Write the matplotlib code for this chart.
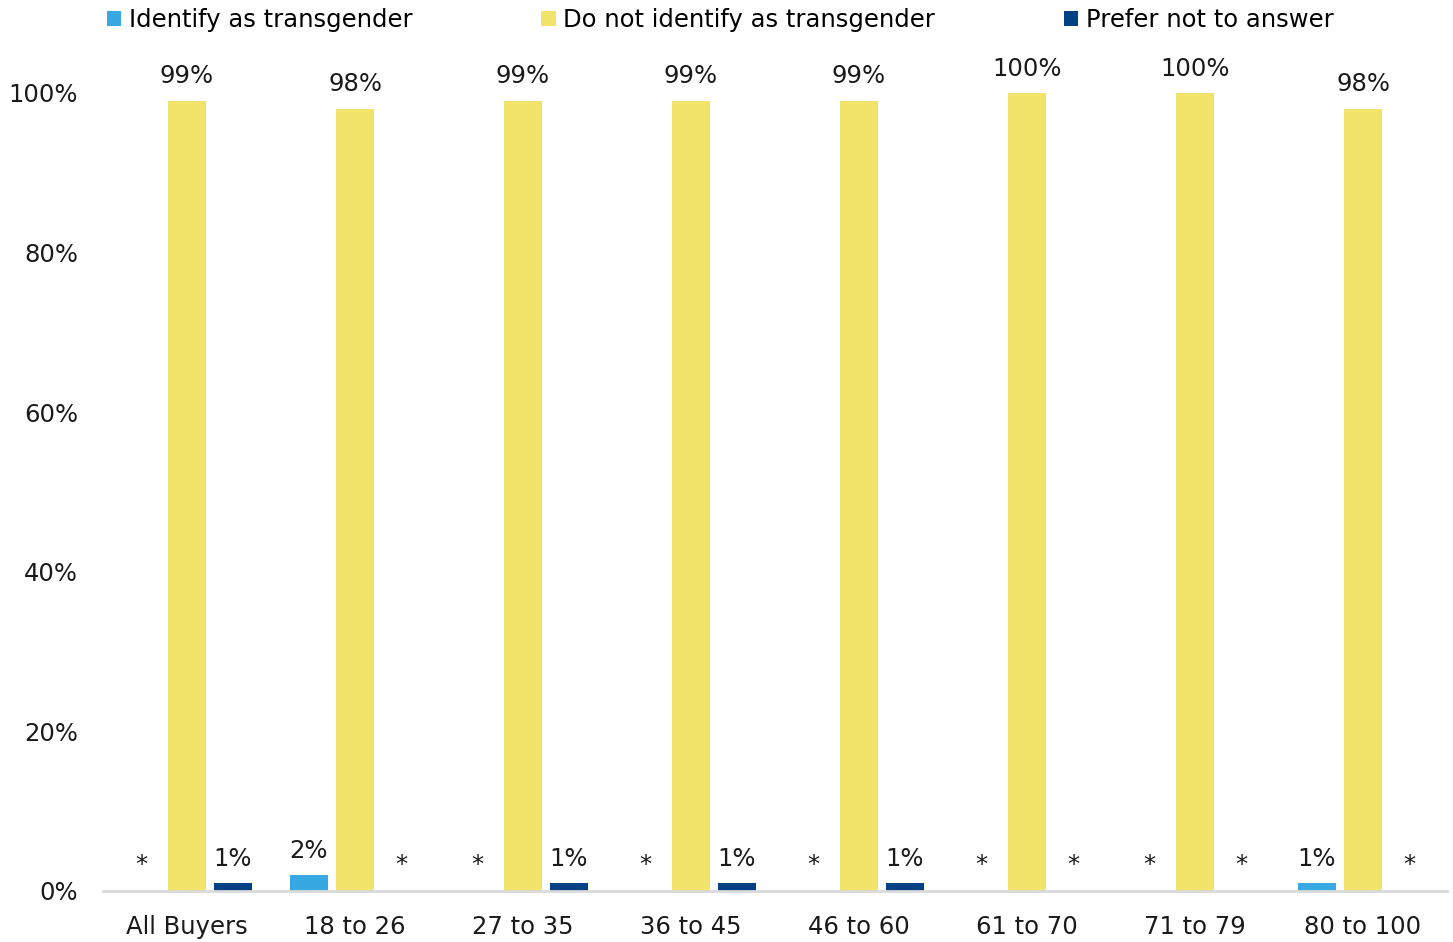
import matplotlib
matplotlib.use("Agg")
import matplotlib.pyplot as plt
import numpy as np
from matplotlib.patches import Patch

categories = ["All Buyers", "18 to 26", "27 to 35", "36 to 45", "46 to 60", "61 to 70", "71 to 79", "80 to 100"]
identify = [0, 2, 0, 0, 0, 0, 0, 1]
not_identify = [99, 98, 99, 99, 99, 100, 100, 98]
prefer_not = [1, 0, 1, 1, 1, 0, 0, 0]
series_names = ["Identify as transgender", "Do not identify as transgender", "Prefer not to answer"]
colors = ["#37A8E2", "#F2E46A", "#024183"]
yticks = [0, 20, 40, 60, 80, 100]

FS = 17.5
plt.rcParams['font.family'] = ['DejaVu Sans']
fig = plt.figure(figsize=(14.53, 9.42), dpi=100)
ax = fig.add_axes([103/1453, 1 - 891/942, (1447-103)/1453, (891-93)/942])

x = np.arange(len(categories))
w = 0.226
off = 0.274
for vals, dx, c in zip([identify, not_identify, prefer_not], [-off, 0, off], colors):
    bars = ax.bar(x + dx, vals, width=w, color=c, zorder=2)
    for xi, v in zip(x + dx, vals):
        lab = f"{v}%" if v > 0 else "*"
        yoff = 9 if v > 0 else 10
        ax.annotate(lab, (xi, v), xytext=(0, yoff), textcoords="offset points",
                    ha="center", va="bottom", fontsize=FS, color="#1a1a1a",
                    annotation_clip=False)

ax.set_xlim(-0.5, len(categories) - 0.5)
ax.set_ylim(0, 100)
ax.set_yticks(yticks)
ax.set_yticklabels([f"{t}%" for t in yticks], fontsize=FS, color="#1a1a1a")
ax.set_xticks(x)
ax.set_xticklabels(categories, fontsize=FS, color="#1a1a1a")
ax.tick_params(axis="both", length=0)
ax.tick_params(axis="y", pad=18)
ax.tick_params(axis="x", pad=17)
for s in ["top", "right", "left"]:
    ax.spines[s].set_visible(False)
ax.spines["bottom"].set_color("#D9D9D9")
ax.spines["bottom"].set_linewidth(2)
ax.spines["bottom"].set_zorder(3)

handles = [Patch(facecolor=c, label=n) for c, n in zip(colors, series_names)]
fig.legend(handles=handles, loc="upper left", bbox_to_anchor=(102/1453, 1 - 3/942), ncol=3,
           frameon=False, fontsize=FS, handlelength=0.6, handleheight=0.6,
           handletextpad=0.3, columnspacing=5.3, borderaxespad=0.0, borderpad=0.2)

fig.savefig("out.png", dpi=100, facecolor="white")
